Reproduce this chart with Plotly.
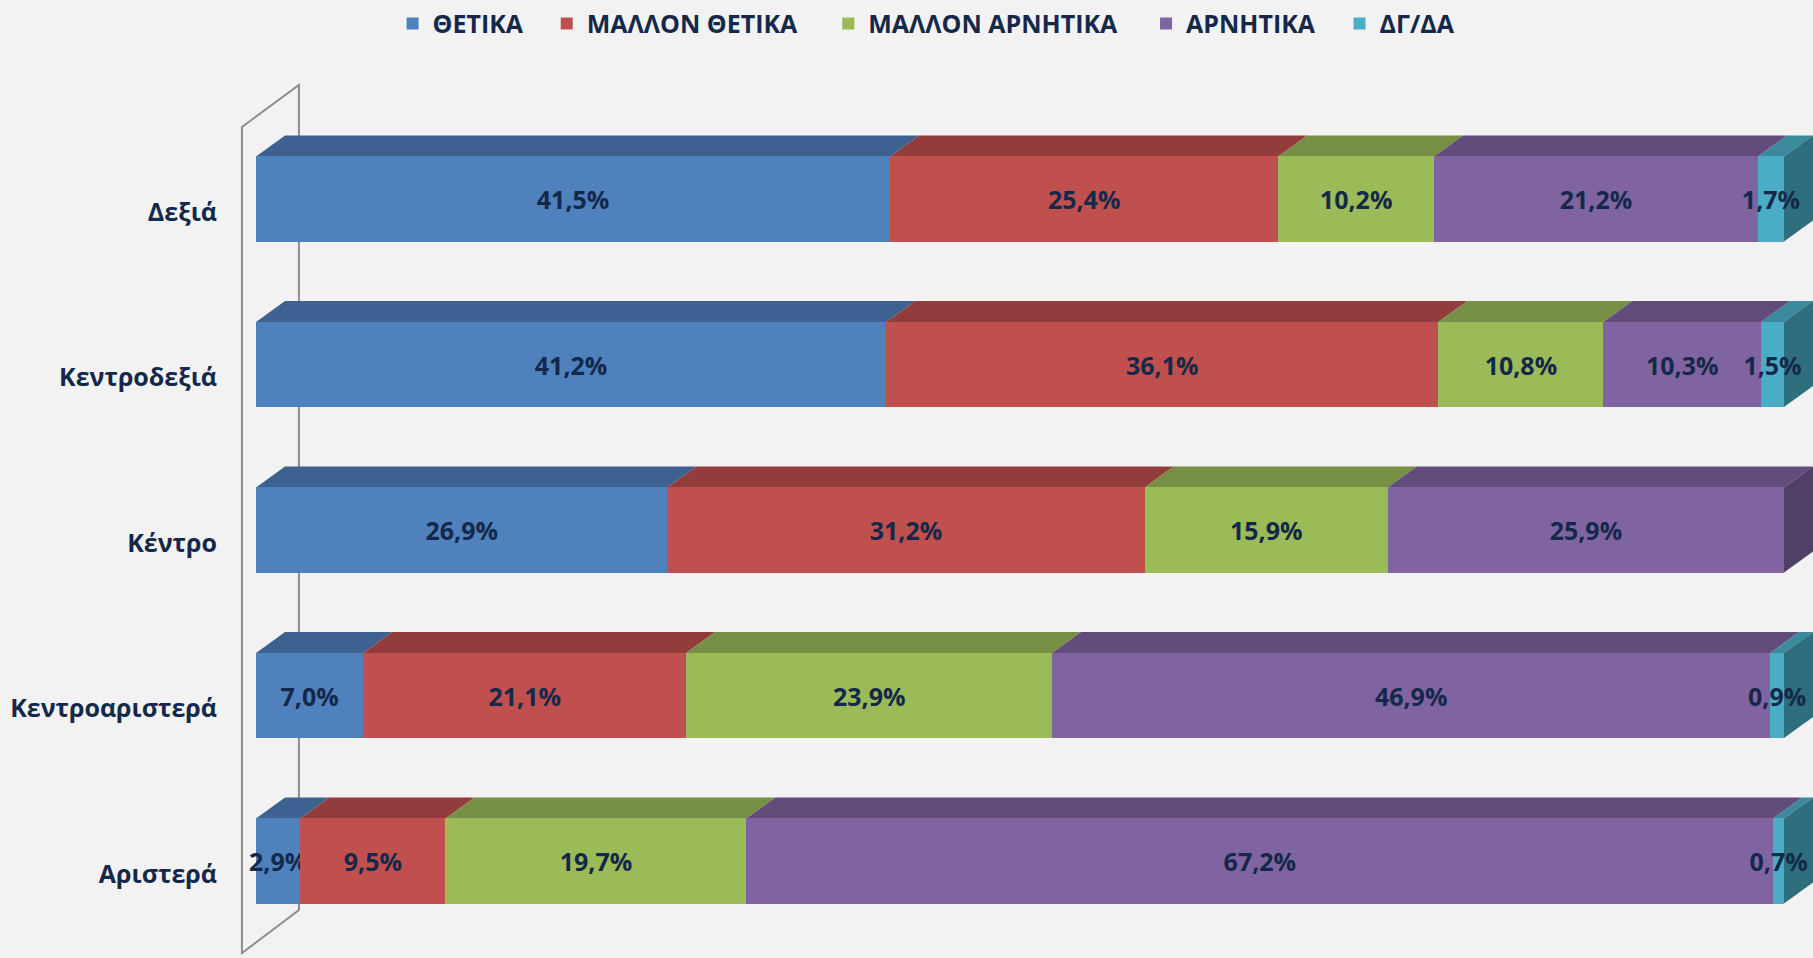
import plotly.graph_objects as go

categories = ["Δεξιά", "Κεντροδεξιά", "Κέντρο", "Κεντροαριστερά", "Αριστερά"]
series_names = ["ΘΕΤΙΚΑ", "ΜΑΛΛΟΝ ΘΕΤΙΚΑ", "ΜΑΛΛΟΝ ΑΡΝΗΤΙΚΑ", "ΑΡΝΗΤΙΚΑ", "ΔΓ/ΔΑ"]
thetika = [41.5, 41.2, 26.9, 7.0, 2.9]
mallon_thetika = [25.4, 36.1, 31.2, 21.1, 9.5]
mallon_arnitika = [10.2, 10.8, 15.9, 23.9, 19.7]
arnitika = [21.2, 10.3, 25.9, 46.9, 67.2]
dg_da = [1.7, 1.5, 0.0, 0.9, 0.7]

series_values = [thetika, mallon_thetika, mallon_arnitika, arnitika, dg_da]
front_colors = ["#4F81BD", "#C0504D", "#9BBB59", "#8064A2", "#4BACC6"]
top_colors = ["#3D6292", "#923D3B", "#778E45", "#614C7B", "#3A899C"]
side_colors = ["#324F77", "#773230", "#617438", "#503F66", "#2F6F7D"]
legend_x = [0.097, 0.195, 0.374, 0.576, 0.699]  # paper x of each legend entry

NAVY = "#14284A"
BG = "#F2F2F2"
BAR_W = 0.514
DX = 1.9
DY = 0.127

n = len(categories)
y_pos = list(range(n - 1, -1, -1))
totals = [sum(col) for col in zip(*series_values)]

fig = go.Figure()
shapes = []

# back wall outline
shapes.append(dict(type="path", xref="x", yref="y", layer="below",
                   path="M-0.92,-0.556 L-0.92,4.435 L2.81,4.689 L2.81,-0.296 Z",
                   line=dict(color="#8C8C8C", width=2), fillcolor="rgba(0,0,0,0)"))

legend_font = dict(size=25, color=NAVY, family="Open Sans", weight="bold")
legends = {}

left = [0.0] * n
last_idx = [None] * n
for s, (name, vals) in enumerate(zip(series_names, series_values)):
    share = [v / t * 100 if v else 0 for v, t in zip(vals, totals)]
    text = [f"{v:.1f}%".replace(".", ",") if v else "" for v in vals]
    lg = "legend" if s == 0 else f"legend{s + 1}"
    legends[lg] = dict(orientation="h", x=legend_x[s], xanchor="left", y=1.064,
                       yanchor="middle", font=legend_font, bgcolor="rgba(0,0,0,0)")
    fig.add_trace(go.Bar(
        y=y_pos, x=share, orientation="h", name=name, width=BAR_W, legend=lg,
        marker=dict(color=front_colors[s], line=dict(width=0)),
        text=text, textposition="inside", insidetextanchor="middle",
        textangle=0, constraintext="none",
        textfont=dict(family="Open Sans", size=25, color=NAVY, weight="bold"),
        hoverinfo="skip",
    ))
    for i in range(n):
        if share[i] <= 0:
            continue
        x0 = left[i]
        x1 = x0 + share[i]
        yt = y_pos[i] + BAR_W / 2
        shapes.append(dict(type="path", xref="x", yref="y", layer="below",
                           path=f"M{x0},{yt} L{x1},{yt} L{x1 + DX},{yt + DY} L{x0 + DX},{yt + DY} Z",
                           fillcolor=top_colors[s], line=dict(width=0)))
        left[i] = x1
        last_idx[i] = s

for i in range(n):
    xe = left[i]
    yt = y_pos[i] + BAR_W / 2
    yb = y_pos[i] - BAR_W / 2
    shapes.append(dict(type="path", xref="x", yref="y", layer="below",
                       path=f"M{xe},{yb} L{xe},{yt} L{xe + DX},{yt + DY} L{xe + DX},{yb + DY} Z",
                       fillcolor=side_colors[last_idx[i]], line=dict(width=0)))

fig.update_layout(
    width=1813, height=958,
    barmode="stack",
    paper_bgcolor=BG, plot_bgcolor=BG,
    margin=dict(l=240, r=0, t=80, b=0),
    font=dict(family="Open Sans", color=NAVY, weight="bold"),
    shapes=shapes,
    showlegend=True,
    xaxis=dict(range=[-1.047, 101.9], visible=False, fixedrange=True),
    yaxis=dict(range=[-0.586, 4.719], tickvals=y_pos, ticktext=categories,
               showgrid=False, zeroline=False, showline=False, ticks="",
               ticklabelstandoff=22, ticklabelshift=13, fixedrange=True,
               tickfont=dict(size=25, color=NAVY, family="Open Sans", weight="bold")),
    **legends,
)

fig.write_html("out.html", config={"displayModeBar": False},
               post_script="document.body.style.margin='0';document.body.style.overflow='hidden';")
